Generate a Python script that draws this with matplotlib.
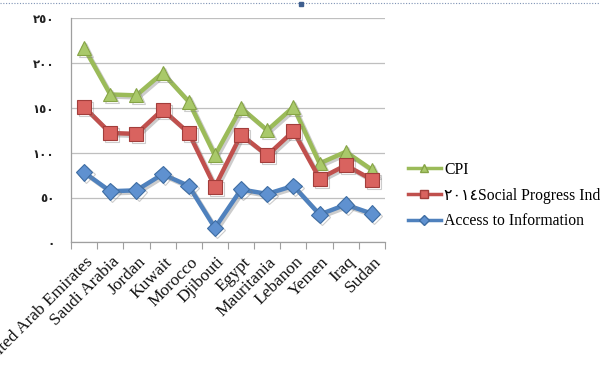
import matplotlib
matplotlib.use("Agg")
import matplotlib.pyplot as plt
import matplotlib.patheffects as pe
from matplotlib.lines import Line2D

categories = ["United Arab Emirates", "Saudi Arabia", "Jordan", "Kuwait", "Morocco",
              "Djibouti", "Egypt", "Mauritania", "Lebanon", "Yemen", "Iraq", "Sudan"]
cpi = [217, 165, 164, 189, 157, 97, 150, 125, 151, 88, 101, 81]
spi = [151, 122, 121, 148, 122, 62, 120, 97, 124, 71, 86, 70]
access = [78, 57, 58, 76, 63, 16, 59, 54, 63, 31, 42, 32]
yticks = [0, 50, 100, 150, 200, 250]
ytick_labels = ["٠", "٥٠", "١٠٠", "١٥٠", "٢٠٠", "٢٥٠"]
series_labels = ["CPI", "٢٠١٤Social Progress Index", "Access to Information"]

serif = ["Liberation Serif", "DejaVu Sans"]

fig = plt.figure(figsize=(6, 3.8), dpi=100)
ax = fig.add_axes([71/600, 1-242.3/380, (385-71)/600, (242.3-18.3)/380])

x = list(range(len(categories)))
shadow = [pe.SimpleLineShadow(offset=(1.5, -1.5), shadow_color="gray", alpha=0.4), pe.Normal()]
ax.plot(x, cpi, color="#9BBB59", lw=3.2, marker="^", ms=10, mfc="#A9C96A", mec="#86A446",
        mew=0.8, path_effects=shadow, zorder=3)
ax.plot(x, spi, color="#C0504D", lw=3.2, marker="s", ms=10, mfc="#D9635F", mec="#A23E3B",
        mew=0.8, path_effects=shadow, zorder=3)
ax.plot(x, access, color="#4F81BD", lw=3.2, marker="D", ms=8.5, mfc="#5F91D0", mec="#3E6DA3",
        mew=0.8, path_effects=shadow, zorder=3)

ax.set_xlim(-0.5, len(categories) - 0.5)
ax.set_ylim(0, 250)
ax.set_yticks(yticks)
ax.set_yticklabels(ytick_labels, family=["DejaVu Sans"], fontsize=8.5, fontweight="bold", color="#222222")
ax.yaxis.grid(True, color="#BFBFBF", lw=0.9)
ax.set_axisbelow(True)
ax.tick_params(axis="y", length=0, pad=12)

ax.set_xticks([i + 0.5 for i in range(-1, len(categories))], minor=False)
ax.set_xticklabels([""] * (len(categories) + 1))
ax.tick_params(axis="x", length=5, color="#9F9F9F", direction="out")
for i, c in enumerate(categories):
    ax.text(i + 0.05, -13, c, rotation=45, ha="right", va="top", rotation_mode="anchor",
            family=serif, fontsize=12.5, color="#111111", clip_on=False)

for s in ["top", "right"]:
    ax.spines[s].set_visible(False)
for s in ["left", "bottom"]:
    ax.spines[s].set_color("#9F9F9F")
    ax.spines[s].set_linewidth(0.9)

handles = [
    Line2D([], [], color="#9BBB59", lw=2.5, marker="^", ms=6, mfc="#A9C96A", mec="#86A446"),
    Line2D([], [], color="#C0504D", lw=2.5, marker="s", ms=6, mfc="#D9635F", mec="#A23E3B"),
    Line2D([], [], color="#4F81BD", lw=2.5, marker="D", ms=5, mfc="#5F91D0", mec="#3E6DA3"),
]
leg = fig.legend(handles, series_labels, loc="upper left", bbox_to_anchor=(400/600, 1-154/380),
                 frameon=False, prop={"family": serif, "size": 11.3}, handlelength=2.1,
                 handletextpad=0.2, labelspacing=0.62, borderpad=0)

fig.add_artist(Line2D([0, 1], [1-3/380, 1-3/380], transform=fig.transFigure, color="#7F93B5",
                      lw=0.8, ls=(0, (1, 1.5))))
fig.add_artist(Line2D([301/600], [1-4/380], transform=fig.transFigure, marker="s", ms=3,
                      color="#3F5F8F", ls="none"))

fig.savefig("out.png", dpi=100)
